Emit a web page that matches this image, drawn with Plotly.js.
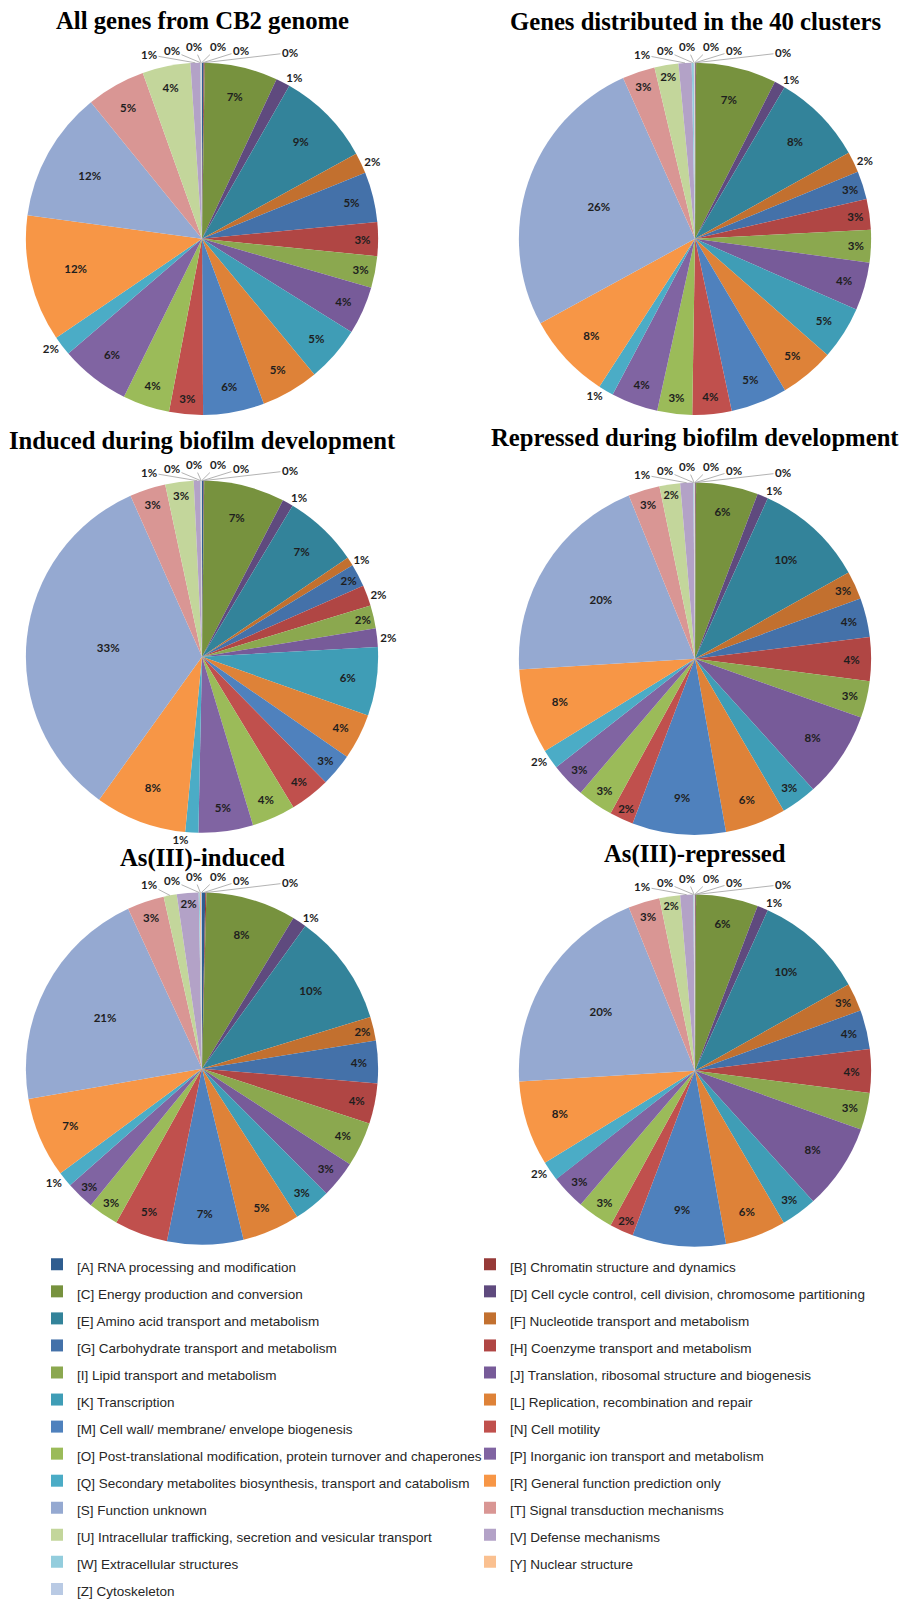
<!DOCTYPE html>
<html>
<head>
<meta charset="utf-8">
<script src="https://cdn.plot.ly/plotly-3.0.1.min.js"></script>
<style>
  html, body { margin: 0; padding: 0; background: #fff; }
  #myDiv { width: 903px; height: 1608px; }
</style>
</head>
<body>
<div id="myDiv"></div>
<script>
// COG categories, in pie order (clockwise from 12 o'clock)
var categories = [
    '[A] RNA processing and modification',
    '[B] Chromatin structure and dynamics',
    '[C] Energy production and conversion',
    '[D] Cell cycle control, cell division, chromosome partitioning',
    '[E] Amino acid transport and metabolism',
    '[F] Nucleotide transport and metabolism',
    '[G] Carbohydrate transport and metabolism',
    '[H] Coenzyme transport and metabolism',
    '[I] Lipid transport and metabolism',
    '[J] Translation, ribosomal structure and biogenesis',
    '[K] Transcription',
    '[L] Replication, recombination and repair',
    '[M] Cell wall/ membrane/ envelope biogenesis',
    '[N] Cell motility',
    '[O] Post-translational modification, protein turnover and chaperones',
    '[P] Inorganic ion transport and metabolism',
    '[Q] Secondary metabolites biosynthesis, transport and catabolism',
    '[R] General function prediction only',
    '[S] Function unknown',
    '[T] Signal transduction mechanisms',
    '[U] Intracellular trafficking, secretion and vesicular transport',
    '[V] Defense mechanisms',
    '[W] Extracellular structures',
    '[Y] Nuclear structure',
    '[Z] Cytoskeleton'
];

// percentage of genes per category
var allGenome   = [0.15, 0.1, 6.7, 1.3, 8.7, 1.9, 4.6, 3.1, 2.9, 4.4, 5.1, 5.3, 5.6, 3.1, 4.3, 6.4, 1.8, 11.6, 12.0, 5.4, 4.4, 0.9, 0.05, 0.05, 0.05];
var clusters40  = [0.05, 0.05, 7.4, 1.0, 8.4, 1.9, 2.6, 2.8, 3.0, 4.4, 4.9, 5.0, 5.2, 3.6, 3.2, 4.3, 1.4, 7.9, 26.3, 3.0, 2.2, 1.2, 0.2, 0.05, 0.05];
var biofilmUp   = [0.15, 0.05, 7.4, 1.0, 6.9, 0.8, 2.1, 1.9, 2.1, 1.7, 6.3, 4.2, 3.0, 3.7, 4.0, 5.0, 1.2, 8.4, 33.4, 3.3, 2.6, 0.6, 0.05, 0.05, 0.05];
var biofilmDown = [0.05, 0.05, 5.7, 1.0, 10.1, 2.6, 3.6, 4.0, 3.4, 7.9, 3.3, 5.6, 8.6, 2.2, 3.3, 3.2, 1.8, 7.8, 19.9, 2.9, 1.9, 1.2, 0.05, 0.05, 0.05];
var arsenicUp   = [0.3, 0.1, 8.3, 1.3, 10.3, 2.2, 3.9, 3.7, 4.1, 3.4, 3.4, 5.3, 7.0, 4.9, 2.8, 2.6, 1.4, 7.4, 20.9, 3.4, 1.2, 2.0, 0.1, 0.1, 0.1];
var arsenicDown = [0.05, 0.05, 5.7, 1.0, 10.1, 2.6, 3.6, 4.0, 3.4, 7.9, 3.3, 5.6, 8.6, 2.2, 3.3, 3.2, 1.8, 7.8, 19.9, 2.9, 1.9, 1.2, 0.05, 0.05, 0.05];

var titles = [
    'All genes from CB2 genome',
    'Genes distributed in the 40 clusters',
    'Induced during biofilm development',
    'Repressed during biofilm development',
    'As(III)-induced',
    'As(III)-repressed'
];

var sliceColors = [
    '#2f5d8f', '#963a38', '#77923e', '#5f4a7e', '#33839a', '#c2702f',
    '#4471a9', '#b04644', '#8ba84f', '#775b99', '#3f9db6', '#de8238',
    '#4f81bd', '#c0504d', '#9bbb59', '#8064a2', '#4bacc6', '#f79646',
    '#95a9d1', '#d99694', '#c3d69b', '#b3a2c7', '#93cddd', '#fac090', '#b9cae4'
];

var W = 903, H = 1608;

// pie centres / radius in page pixels, ty = title centre
var spots = [
    {cx: 202, cy: 240, ty: 21},
    {cx: 695, cy: 240, ty: 22},
    {cx: 202, cy: 660, ty: 443},
    {cx: 695, cy: 662, ty: 440},
    {cx: 202, cy: 1074, ty: 862},
    {cx: 695, cy: 1076, ty: 858}
];
var R = 177;

// fan of leader-line labels above the pie for the slivers at 12 o'clock
var fanDx = [-53, -30, -8, 16, 39, 88];
var fanDy = [-8, -12, -16, -16, -12, -10];

var lblFont = {family: 'Lato, Liberation Sans, sans-serif', size: 11.5, color: '#1e1e1e', weight: 'bold'};

// legend rows are taller than the text, so the text is shrunk inside a span
var legendLabels = categories.map(function (c) {
    return '<span style="font-size:13.5px">' + c + '</span>';
});

var series = [allGenome, clusters40, biofilmUp, biofilmDown, arsenicUp, arsenicDown];

var annotations = [];
var data = [];

series.forEach(function (vals, i) {
    var s = spots[i];
    var total = vals.reduce(function (a, b) { return a + b; }, 0);

    // slivers near the top get a leader line label, small top slices stay inside
    var cum = 0;
    var slivers = [];
    var textpos = vals.map(function (v, j) {
        var mid = (cum + v / 2) / total * 360;
        cum += v;
        var signed = mid > 180 ? mid - 360 : mid;
        if (Math.abs(signed) < 15) {
            if (v / total < 0.015) {
                slivers.push({j: j, ang: signed, pct: v / total});
                return 'none';
            }
            return 'inside';
        }
        return 'auto';
    });
    slivers.sort(function (a, b) { return a.ang - b.ang; });

    data.push({
        type: 'pie',
        labels: legendLabels,
        values: vals,
        sort: false,
        direction: 'clockwise',
        rotation: 0,
        domain: {
            x: [(s.cx - R) / W, (s.cx + R) / W],
            y: [1 - (s.cy + R) / H, 1 - (s.cy - R) / H]
        },
        marker: {colors: sliceColors, line: {width: 0}},
        texttemplate: '%{percent:.0%}',
        textposition: textpos,
        insidetextorientation: 'horizontal',
        textfont: lblFont,
        insidetextfont: lblFont,
        outsidetextfont: lblFont,
        automargin: false,
        hoverinfo: 'label+percent',
        showlegend: true
    });

    slivers.forEach(function (sl, k) {
        var a = sl.ang * Math.PI / 180;
        var tipX = s.cx + R * Math.sin(a);
        var tipY = s.cy - R * Math.cos(a);
        var lx = s.cx + fanDx[k % fanDx.length];
        var ly = s.cy - R + fanDy[k % fanDy.length];
        annotations.push({
            text: Math.round(sl.pct * 100) + '%',
            xref: 'paper', yref: 'paper',
            x: tipX / W, y: 1 - tipY / H,
            ax: lx - tipX, ay: ly - tipY,
            showarrow: true, arrowhead: 0, arrowwidth: 0.8, arrowcolor: '#a0a0a0',
            standoff: 0, startstandoff: 0,
            font: lblFont
        });
    });

    annotations.push({
        text: titles[i],
        xref: 'paper', yref: 'paper',
        x: s.cx / W,
        y: 1 - s.ty / H,
        xanchor: 'center', yanchor: 'middle',
        showarrow: false,
        font: {family: 'Liberation Serif, Times New Roman, serif', size: 24.7, color: '#000', weight: 'bold'}
    });
});

var layout = {
    width: W,
    height: H,
    margin: {l: 0, r: 0, t: 0, b: 0},
    paper_bgcolor: '#fff',
    plot_bgcolor: '#fff',
    annotations: annotations,
    showlegend: true,
    legend: {
        orientation: 'h',
        x: 38 / W,
        xanchor: 'left',
        y: 1 - 1252 / H,
        yanchor: 'top',
        entrywidth: 388,
        entrywidthmode: 'pixels',
        traceorder: 'normal',
        bgcolor: 'rgba(0,0,0,0)',
        font: {family: 'Liberation Sans, Arial, sans-serif', size: 18.5, color: '#262626'}
    }
};

Plotly.newPlot('myDiv', data, layout, {displayModeBar: false, staticPlot: true});
</script>
</body>
</html>
